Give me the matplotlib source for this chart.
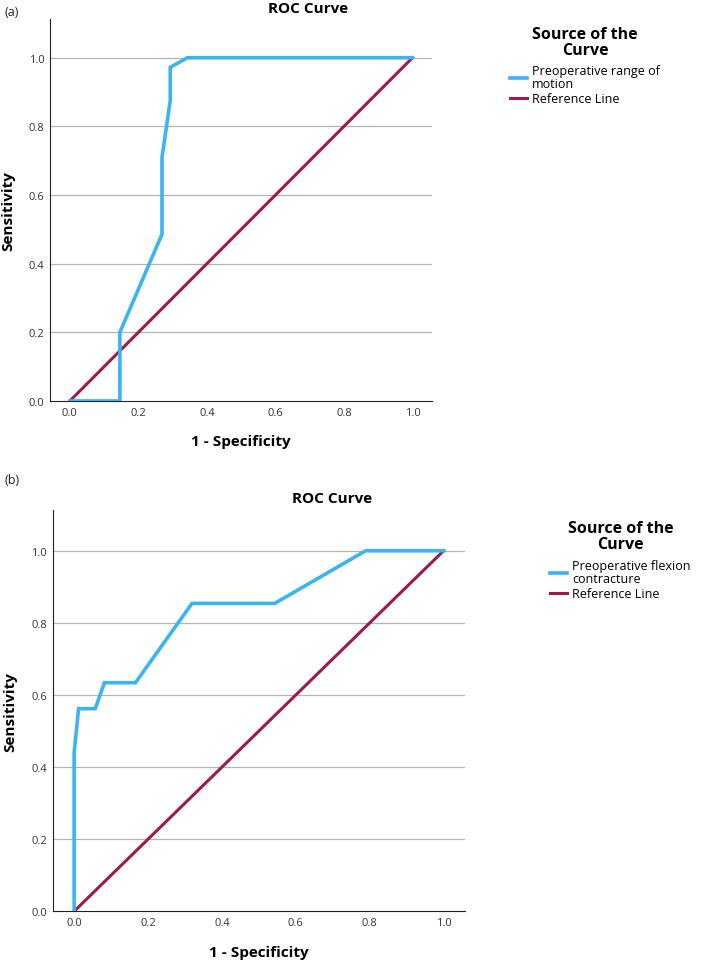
import matplotlib
matplotlib.use('Agg')
from matplotlib import pyplot as plt

plt.rcParams['font.family'] = ['Open Sans', 'DejaVu Sans']

# panel (a): preoperative range of motion
fpr_a = [0.0, 0.146, 0.146, 0.269, 0.269, 0.293, 0.293, 0.343, 1.0]
tpr_a = [0.0, 0.0, 0.2, 0.486, 0.71, 0.875, 0.972, 1.0, 1.0]
label_a = 'Preoperative range of\nmotion'

# panel (b): preoperative flexion contracture
fpr_b = [0.0, 0.0, 0.012, 0.057, 0.082, 0.166, 0.319, 0.543, 0.789, 1.0]
tpr_b = [0.0, 0.44, 0.562, 0.562, 0.634, 0.634, 0.854, 0.854, 1.0, 1.0]
label_b = 'Preoperative flexion\ncontracture'

ref_line = [0.0, 1.0]
ticks = [0.0, 0.2, 0.4, 0.6, 0.8, 1.0]

BLUE = '#3db4f2'
RED = '#9c1a4c'

fig = plt.figure(figsize=(7.03, 9.78), dpi=100)


def roc_panel(rect, fpr, tpr, label, legend_xy, panel_tag, tag_xy, title_xy):
    ax = fig.add_axes(rect)
    curve, = ax.plot(fpr, tpr, color=BLUE, lw=2.6, label=label, solid_joinstyle='miter', zorder=3)
    ref, = ax.plot(ref_line, ref_line, color=RED, lw=2.2, label='Reference Line', zorder=2)
    ax.set_xlim(-0.058, 1.057)
    ax.set_ylim(0, 1.113)
    ax.set_xticks(ticks)
    ax.set_yticks(ticks)
    ax.set_xticklabels([f'{t:.1f}' for t in ticks])
    ax.set_yticklabels([f'{t:.1f}' for t in ticks])
    ax.tick_params(length=0, labelsize=8, colors='#333333', pad=4)
    for t in ticks[1:]:
        ax.axhline(t, color='#b4b4b4', lw=0.9, zorder=1)
    ax.spines['top'].set_visible(False)
    ax.spines['right'].set_visible(False)
    ax.spines['left'].set_color('#222222')
    ax.spines['bottom'].set_color('#222222')
    ax.set_xlabel('1 - Specificity', fontsize=11, fontweight='bold', labelpad=12)
    ax.set_ylabel('Sensitivity', fontsize=11, fontweight='bold', labelpad=10)
    fig.text(title_xy[0], title_xy[1], 'ROC Curve', fontsize=11, fontweight='bold',
             ha='center', va='center')
    leg = fig.legend(handles=[curve, ref], loc='upper left', bbox_to_anchor=legend_xy,
                     frameon=False, fontsize=9, handlelength=1.4, handletextpad=0.4,
                     labelspacing=0.15, borderaxespad=0)
    leg.set_title('Source of the\nCurve', prop={'size': 11.5, 'weight': 'bold'})
    leg.get_title().set_multialignment('center')
    leg.get_title().set_linespacing(1.0)
    for txt in leg.get_texts():
        txt.set_linespacing(1.0)
    leg._legend_box.align = 'center'
    leg._legend_box.sep = 5
    fig.text(tag_xy[0], tag_xy[1], panel_tag, fontsize=9, ha='left', va='center', color='#222222')
    return ax


roc_panel([0.0711, 0.589, 0.5434, 0.3906], fpr_a, tpr_a, label_a, (0.718, 0.978), '(a)',
          (0.007, 0.987), (0.438, 0.991))
roc_panel([0.075, 0.0672, 0.586, 0.4103], fpr_b, tpr_b, label_b, (0.775, 0.472), '(b)',
          (0.007, 0.509), (0.472, 0.490))

fig.savefig('out.png', dpi=100)
